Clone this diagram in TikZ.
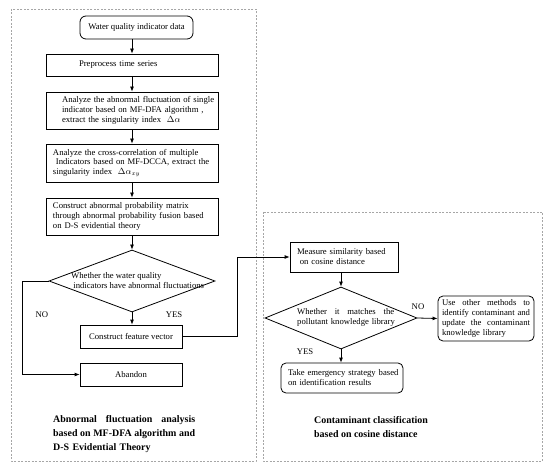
\documentclass[tikz,border=0pt]{standalone}
\usepackage{fontspec}
\setmainfont{Liberation Serif}
\usetikzlibrary{arrows.meta,shapes.geometric}
\newcommand{\jline}[1]{\leavevmode\hbox to \hsize{\spaceskip=0pt plus 1fil\relax #1}}
\begin{document}
\begin{tikzpicture}[x=1bp,y=-1bp,
  every node/.style={font=\fontsize{8.7}{10}\selectfont},
  box/.style={draw, line width=0.8bp, inner ysep=0pt, align=left},
  rbox/.style={box, rounded corners=5bp},
  dia/.style={draw, line width=0.8bp, diamond, inner sep=0pt},
  arr/.style={line width=0.8bp, -{Latex[length=5bp,width=4bp]}},
  frame/.style={draw=gray!70, line width=0.7bp, dash pattern=on 2bp off 1.5bp},
  ttl/.style={font=\fontsize{10}{14}\selectfont\bfseries, align=left, inner sep=0pt},
  lbl/.style={inner sep=0pt}]
\useasboundingbox (0,0) rectangle (550,470);
% frames
\draw[frame] (11,9) rectangle (256,461);
\draw[frame] (263,212) rectangle (542,461);
% left column
\node[rbox, rounded corners=6bp, minimum width=113bp, minimum height=23bp, align=center, inner xsep=0pt] (w) at (136.5,27.5) {Water quality indicator data};
\node[box, text width=106bp, inner xsep=33bp, minimum height=22bp] (b1) at (132,65) {Preprocess time series};
\node[box, text width=156bp, inner xsep=8bp, minimum height=37bp] (b2) at (132,110.5) {\mbox{\hspace*{8bp}Analyze the abnormal fluctuation of single}\\\mbox{\hspace*{8bp}indicator based on MF-DFA algorithm ,}\\\mbox{\hspace*{8bp}extract the singularity index\ \ $\Delta\alpha$}};
\node[box, text width=158bp, inner xsep=7bp, minimum height=38bp] (b3) at (132,163) {\mbox{Analyze the cross-correlation of multiple}\\\mbox{\ Indicators based on MF-DCCA, extract the}\\\mbox{singularity index\ \ $\Delta\alpha_{xy}$}};
\node[box, text width=158bp, inner xsep=7bp, minimum height=37bp] (b4) at (132,216.5) {\mbox{Construct abnormal probability matrix}\\\mbox{through abnormal probability fusion based}\\\mbox{on D-S evidential theory}};
\node[dia, minimum width=166bp, minimum height=62bp] (d1) at (132,281) {};
\node[lbl, anchor=west, align=left] (d1t) at (71,281) {Whether the water quality\\\ indicators have abnormal fluctuations};
\node[box, minimum width=102bp, minimum height=23bp, align=center, inner xsep=0pt] (fv) at (131,336.5) {Construct feature vector};
\node[box, minimum width=102bp, minimum height=23bp, align=center, inner xsep=0pt] (ab) at (131,374.5) {Abandon};
\coordinate (c1) at (22,281);
\coordinate (c2) at (237,336.5);
\node[lbl] (no1) at (42,315) {NO};
\node[lbl] (yes1) at (174,315) {YES};
\draw[arr] (w.south -| b1.north) -- (b1.north);
\draw[arr] (b1) -- (b2);
\draw[arr] (b2) -- (b3);
\draw[arr] (b3) -- (b4);
\draw[arr] (b4) -- (d1.north);
\draw[arr] (d1.south) -- (d1.south |- fv.north);
\draw[arr] (d1.west) -- (c1) |- (ab.west);
% right column
\node[box, text width=94bp, inner xsep=7bp, minimum height=30bp] (ms) at (344,257) {\mbox{Measure similarity based}\\\mbox{\ on cosine distance}};
\node[dia, minimum width=152bp, minimum height=62bp] (d2) at (341,318) {};
\node[lbl, anchor=west, text width=97bp, align=left] (d2t) at (297,317) {\jline{Whether it matches the}\\\mbox{pollutant knowledge library}};
\node[rbox, text width=88bp, inner xsep=4bp, minimum height=45bp] (ob) at (486,318.5) {\jline{Use other methods to}\\\jline{identify contaminant and}\\\jline{update the contaminant}\\knowledge library};
\node[rbox, text width=108bp, inner xsep=7bp, minimum height=30bp] (em) at (342,378) {\mbox{Take emergency strategy based}\\\mbox{on identification results}};
\node[lbl] (no2) at (418,307) {NO};
\node[lbl] (yes2) at (305,352) {YES};
\draw[arr] (fv.east) -- (c2) |- (ms.west);
\draw[arr] (ms.south -| d2.north) -- (d2.north);
\draw[arr] (d2.east) -- (ob.west);
\draw[arr] (d2.south) -- (d2.south |- em.north);
% titles
\node[ttl, text width=142bp, anchor=west] (t1) at (53,434) {\jline{Abnormal fluctuation analysis}\\\jline{based on MF-DFA algorithm and}\\D-S Evidential Theory};
\node[ttl, anchor=west] (t2) at (314,427) {Contaminant classification\\based on cosine distance};
\end{tikzpicture}
\end{document}
